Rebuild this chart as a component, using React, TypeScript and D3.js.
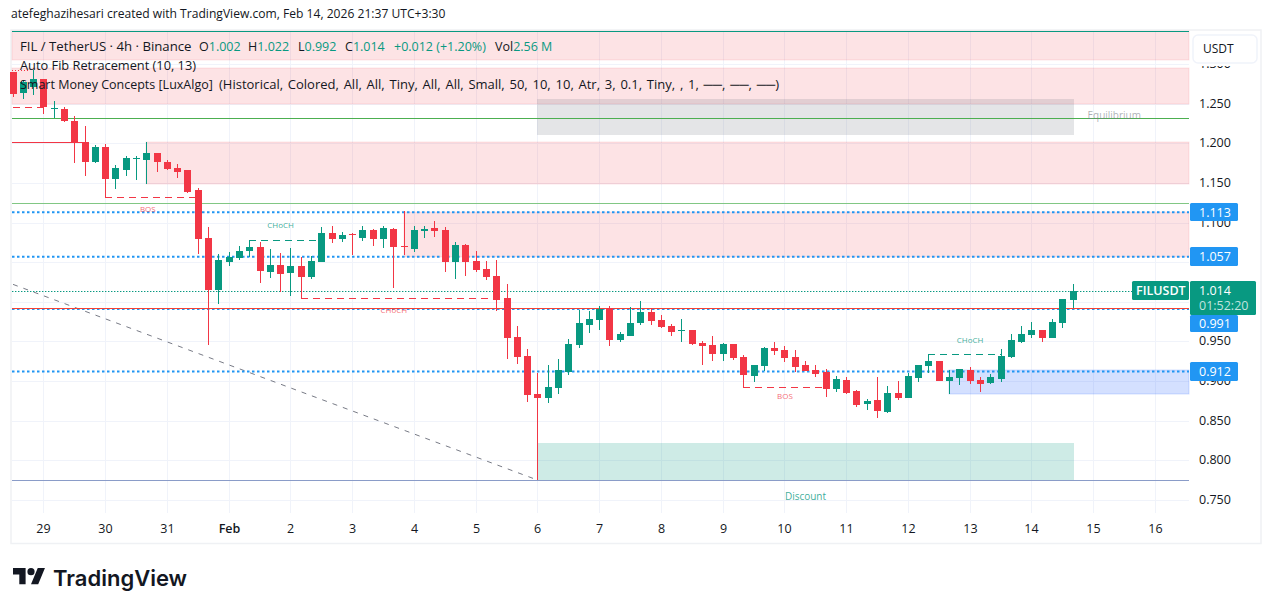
import React from "react";
import * as d3 from "d3";

// 4h FIL/USDT candles, first one sits 3 bars before Jan 29
const firstBar = -3;
const opens = [1.290,1.263,1.271,1.281,1.244,1.243,1.228,1.201,1.177,1.195,1.155,1.166,1.181,1.179,1.188,1.177,1.169,1.166,1.141,1.080,1.015,1.050,1.055,1.064,1.069,1.038,1.046,1.036,1.045,1.031,1.050,1.087,1.079,1.085,1.080,1.090,1.079,1.092,1.071,1.067,1.089,1.093,1.090,1.050,1.072,1.051,1.041,1.032,1.005,0.956,0.932,0.884,0.879,0.891,0.911,0.945,0.971,0.977,0.992,0.952,0.957,0.973,0.987,0.977,0.969,0.964,0.964,0.948,0.945,0.934,0.947,0.930,0.906,0.919,0.942,0.939,0.930,0.920,0.914,0.911,0.890,0.901,0.887,0.871,0.876,0.861,0.885,0.879,0.904,0.919,0.925,0.900,0.904,0.914,0.901,0.898,0.903,0.930,0.949,0.958,0.964,0.954,0.973,1.002];
const highs = [1.290,1.280,1.292,1.281,1.253,1.246,1.235,1.222,1.198,1.199,1.172,1.184,1.184,1.201,1.188,1.179,1.174,1.166,1.143,1.094,1.060,1.063,1.070,1.078,1.075,1.067,1.061,1.068,1.056,1.058,1.094,1.096,1.088,1.087,1.096,1.092,1.096,1.093,1.114,1.096,1.096,1.102,1.094,1.075,1.073,1.064,1.051,1.053,1.022,0.969,0.940,0.910,0.920,0.928,0.953,0.990,0.988,0.995,0.995,0.962,0.993,1.001,0.992,0.983,0.972,0.978,0.964,0.950,0.957,0.948,0.947,0.933,0.920,0.943,0.949,0.944,0.939,0.925,0.920,0.915,0.906,0.905,0.889,0.877,0.905,0.894,0.900,0.910,0.920,0.934,0.925,0.914,0.915,0.918,0.905,0.909,0.940,0.959,0.969,0.974,0.965,0.978,1.004,1.022];
const lows = [1.259,1.256,1.261,1.237,1.232,1.227,1.175,1.159,1.175,1.132,1.142,1.159,1.154,1.148,1.164,1.166,1.156,1.137,1.060,0.945,0.997,1.045,1.053,1.056,1.024,1.030,1.012,1.007,1.005,1.029,1.050,1.074,1.075,1.059,1.077,1.070,1.068,1.017,1.059,1.063,1.080,1.082,1.038,1.029,1.032,1.038,1.027,0.988,0.928,0.921,0.874,0.775,0.872,0.884,0.908,0.942,0.961,0.964,0.944,0.949,0.957,0.971,0.971,0.967,0.957,0.949,0.945,0.920,0.925,0.925,0.927,0.892,0.899,0.913,0.933,0.924,0.911,0.913,0.905,0.880,0.886,0.884,0.867,0.863,0.853,0.860,0.876,0.879,0.899,0.910,0.900,0.884,0.895,0.896,0.886,0.896,0.899,0.929,0.948,0.954,0.949,0.954,0.967,0.992];
const closes = [1.262,1.277,1.281,1.246,1.244,1.228,1.201,1.177,1.195,1.155,1.169,1.181,1.181,1.188,1.176,1.167,1.164,1.138,1.079,1.015,1.053,1.056,1.064,1.069,1.039,1.046,1.035,1.045,1.031,1.051,1.087,1.079,1.084,1.084,1.090,1.079,1.093,1.069,1.070,1.090,1.092,1.089,1.050,1.072,1.050,1.040,1.031,1.002,0.954,0.930,0.883,0.879,0.892,0.914,0.947,0.973,0.978,0.991,0.952,0.959,0.973,0.987,0.976,0.968,0.962,0.964,0.947,0.944,0.934,0.947,0.929,0.908,0.920,0.942,0.938,0.929,0.918,0.913,0.909,0.890,0.903,0.885,0.870,0.875,0.862,0.885,0.879,0.906,0.920,0.925,0.900,0.905,0.915,0.900,0.896,0.905,0.932,0.952,0.959,0.964,0.954,0.974,1.004,1.014];

const dayLabels = ["29","30","31","Feb","2","3","4","5","6","7","8","9","10","11","12","13","14","15","16"];
const priceTicks = [1.3,1.25,1.2,1.15,1.1,1.05,1.0,0.95,0.9,0.85,0.8,0.75];

// smart money zones, from/to are bars, null means the edge of the pane
const zoneFrom = [null,null,48,10,35,88,48];
const zoneTo = [null,null,100,null,null,null,100];
const zoneTop = [1.341,1.295,1.256,1.2014,1.113,0.914,0.822];
const zoneBottom = [1.305,1.249,1.2103,1.1485,1.057,0.884,0.775];
const zoneKind = ["red","red","gray","red","red","blue","green"];

const fibPrices = [1.341,1.232,1.1245,0.775];
const fibColors = ["#089981","#4caf50","#81c784","#8a9cc8"];

const dottedPrices = [1.113,1.057,0.991,0.912];
const dottedTags = [1.113,1.057,0.991,0.912];
const supportPrice = 0.992;
const lastPrice = 1.014;

const swingFrom = [-3,6,20,25,68,86];
const swingTo = [0,15,27,44,76,93];
const swingPrice = [1.246,1.132,1.078,1.005,0.892,0.934];
const swingColor = ["red","red","green","red","red","green"];

const labelText = ["BOS","CHoCH","CHoCH","BOS","CHoCH","Equilibrium","Discount"];
const labelBar = [10.1,23,34,72,90,104,74];
const labelPrice = [1.117,1.097,0.99,0.881,0.952,1.235,0.754];
const labelColor = ["red","green","red","red","green","gray","green"];

const ohlcLetters = ["O","H","L","C"];
const ohlcValues = ["1.002","1.022","0.992","1.014"];

const font = "'Open Sans', sans-serif";
const paneLeft = 12, paneRight = 1189, paneBottom = 513;
const green = "#089981", red = "#f23645", blue = "#2196f3", ink = "#131722";

const x = d3.scaleLinear().domain([0, 96]).range([43.9, 1031.9]);
const y = d3.scaleLinear().domain([0.75, 1.3]).range([500, 64]);
const px = (bar: number) => Math.floor(x(bar));
const py = (price: number) => Math.round(y(price));

const zoneFill: any = { red: "rgba(242,54,69,0.14)", gray: "rgba(120,123,134,0.2)", blue: "rgba(41,98,255,0.2)", green: "rgba(8,153,129,0.2)" };
const zoneEdge: any = { red: "rgba(242,54,69,0.12)", gray: "none", blue: "rgba(41,98,255,0.2)", green: "none" };
const textColor: any = { red: "rgba(242,54,69,0.75)", green: "rgba(8,153,129,0.8)", gray: "rgba(120,123,134,0.6)" };

function PriceTag({ price, top, bottom }: { price: number; top: number; bottom: number }) {
    return (
        <g>
            <rect x={1190} y={top} width={48} height={bottom - top} rx={1.5} fill={blue} />
            <text x={1199} y={(top + bottom) / 2 + 4.5} fontSize={12.5} fontWeight={500} fill="#fff">{price.toFixed(3)}</text>
        </g>
    );
}

export default function App() {
    const dayBars = dayLabels.map((_, k) => k * 6);
    const tagTops = [203, 247, 315, 362];
    const tagBottoms = [221, 266, 332, 381];

    return (
        <div style={{ position: "fixed", left: 0, top: 0 }}>
            <svg width={1272} height={610} style={{ display: "block", background: "#fff", fontFamily: font }}>
                <text x={11} y={18} fontSize={12.1} fill={ink}>atefeghazihesari created with TradingView.com, Feb 14, 2026 21:37 UTC+3:30</text>
                <rect x={11} y={30} width={1250} height={513.5} fill="none" stroke="#eff1f4" strokeWidth={1.5} />

                {/* grid */}
                {priceTicks.map(t => (
                    <line key={t} x1={paneLeft} x2={paneRight} y1={py(t) + 0.5} y2={py(t) + 0.5} stroke="#f0f3fa" />
                ))}
                {dayBars.map(b => (
                    <line key={b} x1={px(b) + 0.5} x2={px(b) + 0.5} y1={31} y2={paneBottom} stroke="#f0f3fa" />
                ))}

                {/* zones */}
                {zoneTop.map((t, i) => {
                    const left = zoneFrom[i] === null ? paneLeft : px(zoneFrom[i] as number);
                    const right = zoneTo[i] === null ? paneRight : px(zoneTo[i] as number) + 1;
                    return (
                        <rect key={i} x={left} width={right - left} y={py(t)} height={py(zoneBottom[i]) - py(t)}
                            fill={zoneFill[zoneKind[i]]} stroke={zoneEdge[zoneKind[i]]} strokeWidth={1} />
                    );
                })}

                {/* fib and level lines */}
                {fibPrices.map((p, i) => (
                    <line key={p} x1={paneLeft} x2={paneRight} y1={py(p) + 0.5} y2={py(p) + 0.5} stroke={fibColors[i]} />
                ))}
                <line x1={x(firstBar)} x2={x(48)} y1={y(1.022)} y2={y(0.775)} stroke="#787b86" strokeDasharray="5 6" />
                <line x1={paneLeft} x2={px(4)} y1={py(1.2014) + 0.5} y2={py(1.2014) + 0.5} stroke={red} />
                <line x1={paneLeft} x2={px(-1.5)} y1={py(1.293) + 0.5} y2={py(1.293) + 0.5} stroke={red} strokeDasharray="1 2" />
                {dottedPrices.map(p => (
                    <line key={p} x1={paneLeft} x2={paneRight} y1={y(p)} y2={y(p)} stroke={blue} strokeWidth={2} strokeDasharray="2.5 2.5" />
                ))}
                <line x1={paneLeft} x2={1133} y1={py(lastPrice) + 0.5} y2={py(lastPrice) + 0.5} stroke={green} strokeWidth={1.2} strokeDasharray="1.4 1.6" />
                <line x1={paneLeft} x2={paneRight} y1={py(supportPrice) + 0.5} y2={py(supportPrice) + 0.5} stroke="#f44336" />

                {/* structure breaks */}
                {swingFrom.map((b, i) => (
                    <line key={i} x1={px(b)} x2={px(swingTo[i])} y1={py(swingPrice[i]) + 0.5} y2={py(swingPrice[i]) + 0.5}
                        stroke={swingColor[i] === "red" ? red : green} strokeDasharray="7 5" />
                ))}
                {labelText.map((t, i) => (
                    <text key={i} x={x(labelBar[i])} y={y(labelPrice[i]) + 3} textAnchor="middle"
                        fontSize={t === "Equilibrium" || t === "Discount" ? 10 : 8} fill={textColor[labelColor[i]]}>{t}</text>
                ))}

                {/* candles */}
                {opens.map((o, i) => {
                    const c = closes[i];
                    const cx = px(i + firstBar);
                    const col = c >= o ? green : red;
                    const top = py(Math.max(o, c));
                    const bottom = py(Math.min(o, c));
                    return (
                        <g key={i} fill={col}>
                            <rect x={cx} width={1} y={py(highs[i])} height={py(lows[i]) - py(highs[i])} />
                            <rect x={cx - 3} width={7} y={top} height={Math.max(1, bottom - top)} />
                        </g>
                    );
                })}

                {/* legend */}
                <g fontSize={12.5} fill={ink}>
                    <text x={20} y={51} fontSize={13.2}>FIL / TetherUS · 4h · Binance</text>
                    {ohlcLetters.map((l, i) => {
                        const pos = [199, 248, 298, 345][i];
                        return (
                            <text key={l} x={pos} y={51}>{l}<tspan fill={green}>{ohlcValues[i]}</tspan></text>
                        );
                    })}
                    <text x={394} y={51} fill={green}>+0.012 (+1.20%)</text>
                    <text x={495} y={51}>Vol<tspan fill={green}>2.56 M</tspan></text>
                    <text x={20} y={70} fontSize={12.8}>Auto Fib Retracement (10, 13)</text>
                    <text x={20} y={89}>Smart Money Concepts [LuxAlgo]<tspan x={219} fontSize={13} wordSpacing={1.4}>(Historical, Colored, All, All, Tiny, All, All, Small, 50, 10, 10, Atr, 3, 0.1, Tiny, , 1, ──, ──, ──)</tspan></text>
                </g>

                {/* axes */}
                <g fontSize={12.5} fill={ink}>
                    {priceTicks.map(t => (
                        <text key={t} x={1199} y={py(t) + 4}>{t.toFixed(3)}</text>
                    ))}
                    {dayLabels.map((d, k) => (
                        <text key={d} x={px(dayBars[k]) + 0.5} y={533} textAnchor="middle" fontWeight={d === "Feb" ? 600 : 400}>{d}</text>
                    ))}
                </g>
                <rect x={1190} y={31} width={70} height={35} fill="#fff" />
                <rect x={1193} y={35} width={64} height={28} rx={5} fill="#fff" stroke="#f0f3fa" strokeWidth={1.5} />
                <text x={1203} y={53} fontSize={12} fill={ink}>USDT</text>

                {dottedTags.map((p, i) => (
                    <PriceTag key={p} price={p} top={tagTops[i]} bottom={tagBottoms[i]} />
                ))}
                <rect x={1132} y={281} width={57} height={19} rx={1.5} fill={green} />
                <text x={1136} y={295} fontSize={12.5} fontWeight={600} fill="#fff">FILUSDT</text>
                <rect x={1190} y={281} width={66} height={34} rx={1.5} fill={green} />
                <text x={1199} y={295} fontSize={12.5} fontWeight={500} fill="#fff">{lastPrice.toFixed(3)}</text>
                <text x={1199} y={310} fontSize={12.5} fill="#fff" fillOpacity={0.75}>01:52:20</text>

                {/* logo */}
                <g transform="translate(13,564.5) scale(0.9)" fill="#131722">
                    <path d="M14 22H7V11H0V4h14v18zM28 22h-8l7.5-18h8L28 22z" />
                    <circle cx={20} cy={8} r={4} />
                </g>
                <text x={53} y={586} fontSize={22} fontWeight={600} fontFamily="Inter, sans-serif" fill="#131722">TradingView</text>
            </svg>
        </div>
    );
}
